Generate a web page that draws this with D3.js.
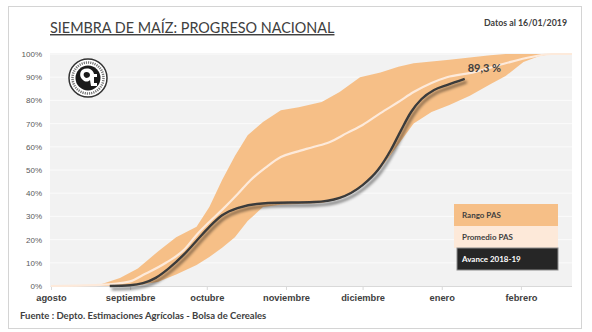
<!DOCTYPE html>
<html>
<head>
<meta charset="UTF-8">
<title>Siembra de maíz: progreso nacional</title>
<script src="https://cdnjs.cloudflare.com/ajax/libs/d3/7.8.5/d3.min.js"></script>
<style>
  body { margin: 0; background: #fff; }
  svg { display: block; font-family: Lato, "Open Sans", sans-serif; }
</style>
</head>
<body>
<div id="chart"></div>
<script>
// Range of past seasons (PAS): min and max progress, same dates
var rangeDates = ["2018-08-01","2018-08-20","2018-08-28","2018-09-04","2018-09-12","2018-09-19",
  "2018-09-27","2018-10-02","2018-10-07","2018-10-12","2018-10-17","2018-10-23","2018-10-30",
  "2018-11-06","2018-11-15","2018-11-22","2018-11-30","2018-12-08","2018-12-15","2018-12-21",
  "2018-12-28","2019-01-04","2019-01-12","2019-01-20","2019-01-26","2019-02-02","2019-02-08",
  "2019-02-13","2019-02-21"];
var rangeMax = [0, 0.5, 3.4, 7.5, 15, 21, 25.5, 34, 45.7, 56, 65, 70.7, 75.8,
  77, 79.3, 83.6, 90, 92, 94.5, 96, 96.8, 97.5, 98.5, 99.5, 100, 100, 100, 100, 100];
var rangeMin = [0, 0, 0, 0.2, 1.8, 5, 9, 12.5, 16.5, 21, 28, 34, 35,
  35.3, 35.8, 37.5, 42.5, 50.5, 61, 70, 75, 78, 82, 87, 90.5, 96.5, 99, 100, 100];

// Average of past seasons
var avgDates = ["2018-08-01","2018-08-20","2018-09-01","2018-09-06","2018-09-15","2018-09-22",
  "2018-09-27","2018-10-02","2018-10-07","2018-10-13","2018-10-18","2018-10-24","2018-10-30",
  "2018-11-05","2018-11-12","2018-11-18","2018-11-25","2018-12-01","2018-12-08","2018-12-15",
  "2018-12-21","2018-12-28","2019-01-03","2019-01-13","2019-01-26","2019-02-05","2019-02-13",
  "2019-02-21"];
var avgValues = [0, 0.5, 2, 4.7, 10, 15.5, 22, 27.6, 32.8, 39.5, 45.5, 51, 55.6,
  57.8, 60, 62, 66, 69.4, 74.5, 79.3, 83.6, 87.5, 90, 92, 96, 98.7, 100, 100];

// Current campaign 2018-19
var curDates = ["2018-08-24","2018-09-01","2018-09-06","2018-09-11","2018-09-16",
  "2018-09-22","2018-09-27","2018-10-02","2018-10-07","2018-10-13","2018-10-25","2018-11-12",
  "2018-11-22","2018-12-01","2018-12-07","2018-12-12","2018-12-16","2018-12-20","2018-12-24",
  "2018-12-29","2019-01-03","2019-01-10"];
var curValues = [0, 0.3, 1.2, 3.5, 7.5, 13.5, 19.5, 25.5, 30.5, 33.6, 35.8, 36.2,
  38, 43.5, 50, 58.5, 67, 75, 80.5, 84.5, 86.6, 89.3];

var monthStarts = ["2018-08-01","2018-09-01","2018-10-01","2018-11-01","2018-12-01","2019-01-01","2019-02-01"];
var monthLabels = ["agosto","septiembre","octubre","noviembre","diciembre","enero","febrero"];
var yTicks = [0,10,20,30,40,50,60,70,80,90,100];

var legendItems = ["Rango PAS", "Promedio PAS", "Avance 2018-19"];

var W = 592, H = 332;
var parse = d3.timeParse("%Y-%m-%d");

var svg = d3.select("#chart").append("svg")
    .attr("width", W)
    .attr("height", H);

var defs = svg.append("defs");
var shadow = defs.append("filter").attr("id", "shadow")
    .attr("x", "-10%").attr("y", "-10%").attr("width", "130%").attr("height", "140%");
shadow.append("feGaussianBlur").attr("in", "SourceAlpha").attr("stdDeviation", 1.8).attr("result", "b");
shadow.append("feOffset").attr("in", "b").attr("dx", 2).attr("dy", 2.5).attr("result", "o");
shadow.append("feComponentTransfer").attr("in", "o").attr("result", "s")
  .append("feFuncA").attr("type", "linear").attr("slope", 0.55);
var merge = shadow.append("feMerge");
merge.append("feMergeNode").attr("in", "s");
merge.append("feMergeNode").attr("in", "SourceGraphic");

// frame
svg.append("rect")
    .attr("x", 8.5).attr("y", 6.5)
    .attr("width", 573).attr("height", 322)
    .attr("fill", "#fff")
    .attr("stroke", "#d4d4d4");

var x = d3.scaleTime()
    .domain([parse("2018-08-01"), parse("2019-02-21")])
    .range([51, 572]);
var y = d3.scaleLinear()
    .domain([0, 100])
    .range([286, 54]);

// plot background
svg.append("rect")
    .attr("x", 50).attr("y", 53)
    .attr("width", 522).attr("height", 233)
    .attr("fill", "#f2f2f2");

// gridlines
svg.append("g").selectAll("line")
    .data(yTicks.slice(1))
    .join("line")
    .attr("x1", 50).attr("x2", 572)
    .attr("y1", d => y(d)).attr("y2", d => y(d))
    .attr("stroke", "#fbfbfb")
    .attr("stroke-width", 1);

// y axis labels
var yAxis = svg.append("g")
    .attr("transform", "translate(50,0)")
    .call(d3.axisLeft(y).tickValues(yTicks).tickFormat(d => d + "%").tickSize(0).tickPadding(8));
yAxis.select(".domain").remove();
yAxis.selectAll("text")
    .attr("fill", "#595959")
    .attr("font-size", 8);

// range band
var band = rangeDates.map((d, i) => ({ date: parse(d), lo: rangeMin[i], hi: rangeMax[i] }));
svg.append("path")
    .datum(band)
    .attr("fill", "#f6bf87")
    .attr("d", d3.area()
        .x(d => x(d.date))
        .y0(d => y(d.lo))
        .y1(d => y(d.hi)));

// x axis
var xAxis = svg.append("g")
    .attr("transform", "translate(0,286)")
    .call(d3.axisBottom(x)
        .tickValues(monthStarts.map(parse))
        .tickFormat((d, i) => monthLabels[i])
        .tickSizeInner(4).tickSizeOuter(0).tickPadding(4));
xAxis.select(".domain").attr("stroke", "#d9d9d9").attr("d", "M50.5,0.5H572");
xAxis.selectAll(".tick line").attr("stroke", "#d9d9d9");
xAxis.selectAll("text")
    .attr("fill", "#404040")
    .attr("font-size", 9.3)
    .attr("font-weight", "bold");

var smooth = d3.line()
    .x(d => x(d.date))
    .y(d => y(d.v))
    .curve(d3.curveMonotoneX);

// average line
var avg = avgDates.map((d, i) => ({ date: parse(d), v: avgValues[i] }));
svg.append("path")
    .datum(avg)
    .attr("fill", "none")
    .attr("stroke", "#fdeadb")
    .attr("stroke-width", 2.2)
    .attr("d", smooth);

// current season line
var cur = curDates.map((d, i) => ({ date: parse(d), v: curValues[i] }));
svg.append("path")
    .datum(cur)
    .attr("fill", "none")
    .attr("stroke", "#3b3b3b")
    .attr("stroke-width", 2.4)
    .attr("filter", "url(#shadow)")
    .attr("d", smooth);

// last value label
var last = cur[cur.length - 1];
svg.append("text")
    .attr("x", x(last.date) + 3)
    .attr("y", y(last.v) - 7)
    .attr("fill", "#404040")
    .attr("font-size", 11)
    .attr("font-weight", "bold")
    .text(d3.format(".1f")(last.v).replace(".", ",") + " %");

// legend
var legendFill = ["#f6bf87", "#fde9d9", "#262626"];
var legendText = ["#3f3f3f", "#3f3f3f", "#ffffff"];
var lg = svg.append("g").attr("transform", "translate(454,204)");
lg.selectAll("rect")
    .data(legendItems)
    .join("rect")
    .attr("x", (d, i) => i == 2 ? 3 : 0)
    .attr("y", (d, i) => i * 22)
    .attr("width", (d, i) => i == 2 ? 101 : 104)
    .attr("height", 22)
    .attr("fill", (d, i) => legendFill[i])
    .attr("stroke", (d, i) => i == 2 ? "#8c8c8c" : "none");
lg.selectAll("text")
    .data(legendItems)
    .join("text")
    .attr("x", 8)
    .attr("y", (d, i) => i * 22 + 14)
    .attr("fill", (d, i) => legendText[i])
    .attr("font-size", 8)
    .attr("font-weight", "bold")
    .text(d => d);

// emblem
var logo = svg.append("g").attr("transform", "translate(88,78)");
logo.append("circle").attr("r", 19).attr("fill", "#fff").attr("stroke", "#333").attr("stroke-width", 1.5);
logo.append("circle").attr("r", 15.5).attr("fill", "none").attr("stroke", "#777").attr("stroke-width", 2.5)
    .attr("stroke-dasharray", "1.2 1");
logo.append("circle").attr("r", 12.5).attr("fill", "#1a1a1a");
logo.append("path")
    .attr("fill", "#fff")
    .attr("d", "M-6,-8 C-1,-11 5,-9 6,-4 L9,-4 L9,-1 L6,-1 L6,5 L9,5 L9,8 L3,8 L2,2 C0,4 -3,4 -5,2 C-8,0 -9,-5 -6,-8 Z");
logo.append("path")
    .attr("fill", "#1a1a1a")
    .attr("d", "M-4,-5 C-2,-7 2,-6 2,-3 C2,-1 0,0 -2,0 C-4,-1 -5,-3 -4,-5 Z");

// titles
svg.append("text")
    .attr("x", 50).attr("y", 33)
    .attr("fill", "#404040")
    .attr("font-size", 14.4)
    .attr("text-decoration", "underline")
    .text("SIEMBRA DE MAÍZ: PROGRESO NACIONAL");

svg.append("text")
    .attr("x", 567).attr("y", 26)
    .attr("text-anchor", "end")
    .attr("fill", "#404040")
    .attr("font-size", 8.8)
    .attr("font-weight", "bold")
    .text("Datos al 16/01/2019");

svg.append("text")
    .attr("x", 20).attr("y", 319)
    .attr("fill", "#404040")
    .attr("font-size", 9.5)
    .attr("font-weight", "bold")
    .text("Fuente : Depto. Estimaciones Agrícolas - Bolsa de Cereales");
</script>
</body>
</html>
